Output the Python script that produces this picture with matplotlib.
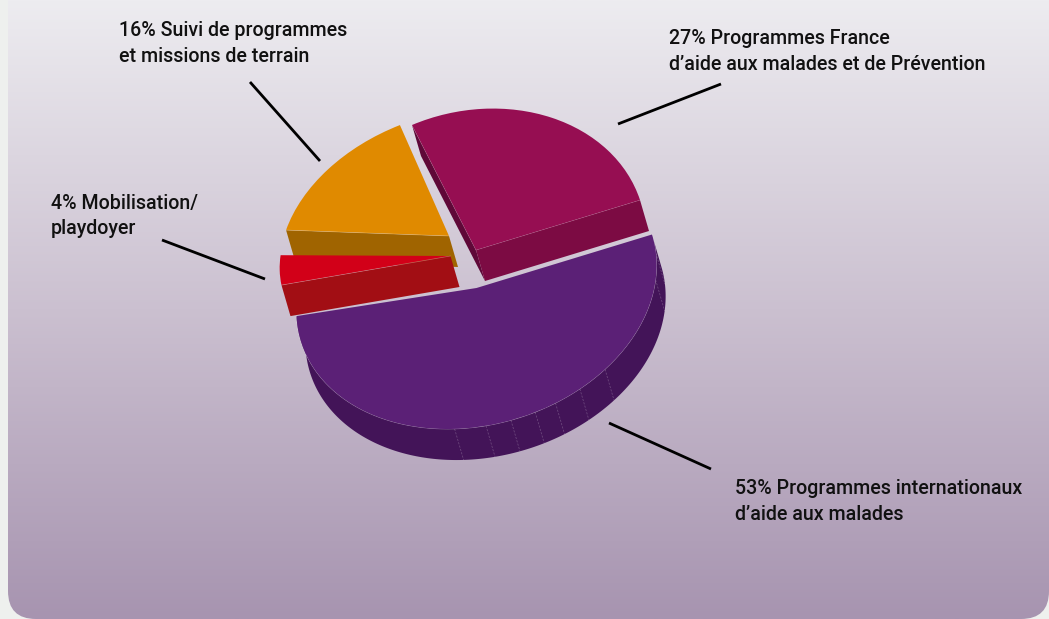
import numpy as np
import matplotlib
matplotlib.use('Agg')
import matplotlib.pyplot as plt
from matplotlib.patches import Wedge, Polygon, FancyBboxPatch
from matplotlib.transforms import Affine2D
from matplotlib.colors import LinearSegmentedColormap

# slices, in the order they go round the pie
names = ['plum', 'orange', 'red', 'purple']
values = [27, 16, 4, 53]
labels = ['Programmes France\nd\u2019aide aux malades et de Pr\u00e9vention',
          'Suivi de programmes\net missions de terrain',
          'Mobilisation/\nplaydoyer',
          'Programmes internationaux\nd\u2019aide aux malades']
top_colors = ['#960e52', '#e08a00', '#d20018', '#5b2076']
wall_colors = ['#7c0b43', '#a06400', '#a20e14', '#431458']
inner_colors = ['#5f0838', None, None, None]

# seams on the purple rim, angle on the pie
seam_angles = [250, 260, 268, 276, 283, 292, 302.5, 341, 352]

# look of the tilted pie, each slice was distorted a bit differently
tilt = {'plum': np.array([[164.0, -43.8], [-50.0, -132.3]]),
        'orange': np.array([[166.7, -28.4], [-49.0, -118.0]]),
        'red': np.array([[161.4, -56.0], [-50.4, -109.0]]),
        'purple': np.array([[175.5, -40.6], [-53.5, -130.5]])}
depth = np.array([9.0, 31.0])
apex = {'plum': (476, 250), 'orange': (449, 236), 'red': (450.5, 256), 'purple': (476.5, 288)}

label_pos = [(669, 38), (119, 30), (51, 203), (735, 489)]
leaders = [((618, 124), (721, 84)), ((250, 82), (320, 161)),
           ((162, 240), (265, 279)), ((609, 423), (711, 469))]

plt.rcParams['font.family'] = ['Roboto', 'DejaVu Sans']

fig = plt.figure(figsize=(10.49, 6.19), dpi=100, facecolor='#eef0ee')
ax = fig.add_axes([0, 0, 1, 1])
ax.set_xlim(0, 1049)
ax.set_ylim(619, 0)
ax.axis('off')

# background panel with gradient, rounded at the bottom
cmap = LinearSegmentedColormap.from_list('bg', ['#edecf0', '#cbc0d0', '#a794b0'])
grad = np.linspace(0, 1, 256).reshape(-1, 1)
im = ax.imshow(grad, cmap=cmap, extent=(8, 1049, 619, 0), aspect='auto', zorder=0)
panel = FancyBboxPatch((8 + 28, -60 + 28), 1041 - 56, 679 - 56,
                       boxstyle='round,pad=28,rounding_size=28',
                       facecolor='none', edgecolor='none', transform=ax.transData)
ax.add_patch(panel)
im.set_clip_path(panel)
ax.set_xlim(0, 1049)
ax.set_ylim(619, 0)


def point(name, angle):
    t = np.radians(angle)
    return tilt[name] @ np.array([np.cos(t), np.sin(t)]) + np.array(apex[name])


def arc(name, a1, a2, n=80):
    t = np.radians(np.linspace(a1, a2, n))
    pts = tilt[name] @ np.vstack([np.cos(t), np.sin(t)])
    return pts.T + np.array(apex[name])


def cut_wall(name, angle, color, z):
    a = np.array(apex[name], dtype=float)
    b = point(name, angle)
    ax.add_patch(Polygon([a, b, b + depth, a + depth], closed=True, facecolor=color,
                         edgecolor='none', zorder=z))
    ax.plot([a[0], b[0]], [a[1], b[1]], color='white', lw=0.5, alpha=0.3, zorder=z + 2)


def top_face(name, a1, a2, color, z):
    m = tilt[name]
    tr = Affine2D(np.array([[m[0, 0], m[0, 1], apex[name][0]],
                            [m[1, 0], m[1, 1], apex[name][1]],
                            [0, 0, 1]])) + ax.transData
    ax.add_patch(Wedge((0, 0), 1, a1, a2, facecolor=color, edgecolor='none',
                       transform=tr, zorder=z))


edges = np.cumsum([0] + values) * 3.6
start = dict(zip(names, edges[:-1]))
end = dict(zip(names, edges[1:]))

# orange first, it sits at the back
cut_wall('orange', end['orange'], wall_colors[1], 2)
top_face('orange', start['orange'], end['orange'], top_colors[1], 3)

# red in front of orange
top_face('red', start['red'], end['red'], top_colors[2], 5)
cut_wall('red', end['red'], wall_colors[2], 6)

# plum, both cuts show
cut_wall('plum', end['plum'], inner_colors[0], 7)
cut_wall('plum', start['plum'], wall_colors[0], 8)
top_face('plum', start['plum'], end['plum'], top_colors[0], 11)

# purple rim then top
rim = arc('purple', start['purple'], end['purple'], 200)
rim_poly = np.vstack([rim, (rim + depth)[::-1]])
ax.add_patch(Polygon(rim_poly, closed=True, facecolor=wall_colors[3], edgecolor='none', zorder=12))
for s in seam_angles:
    p = point('purple', s)
    ax.plot([p[0], p[0] + depth[0]], [p[1], p[1] + depth[1]], color='white', lw=0.5,
            alpha=0.25, ls=(0, (3, 2)), zorder=13)
ax.plot(rim[:, 0], rim[:, 1], color='white', lw=0.5, alpha=0.35, zorder=13)
top_face('purple', start['purple'], end['purple'], top_colors[3], 14)

for (p1, p2) in leaders:
    ax.plot([p1[0], p2[0]], [p1[1], p2[1]], color='black', lw=2, solid_capstyle='butt', zorder=20)

for v, lab, pos in zip(values, labels, label_pos):
    line1, line2 = lab.split('\n')
    ax.text(pos[0], pos[1], '%d%% %s' % (v, line1), fontsize=14.1, fontweight='medium',
            color='#111111', va='center', ha='left', zorder=21)
    ax.text(pos[0], pos[1] + 26, line2, fontsize=14.1, fontweight='medium',
            color='#111111', va='center', ha='left', zorder=21)

fig.savefig('out.png', dpi=100, facecolor=fig.get_facecolor())
